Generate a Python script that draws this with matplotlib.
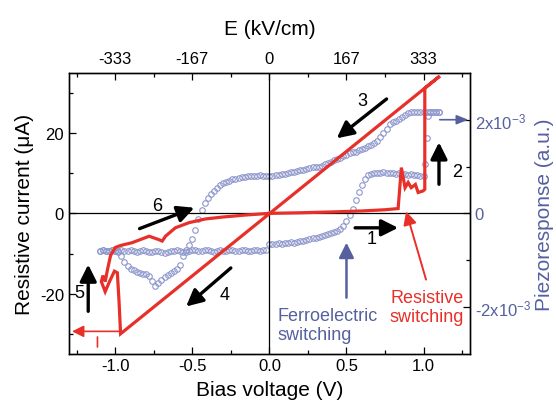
import matplotlib
matplotlib.use("Agg")
import matplotlib.pyplot as plt
import numpy as np

plt.rcParams['font.family'] = ['Liberation Sans', 'DejaVu Sans']
plt.rcParams['mathtext.fontset'] = 'custom'
plt.rcParams['mathtext.rm'] = 'Liberation Sans'
plt.rcParams['mathtext.it'] = 'Liberation Sans'
plt.rcParams['mathtext.default'] = 'regular'

# ---------------- data ----------------
# Resistive current (uA) vs bias voltage (V), red loop
red_v = [0.00, 0.20, 0.40, 0.60, 0.75, 0.835, 0.856, 0.88, 0.90, 0.92, 0.947, 0.965, 0.997, 1.008,
         1.008, 1.105, -0.965,
         -0.975, -0.986, -1.005, -1.037, -1.065, -1.09, -1.08, -1.065, -1.05, -1.03, -1.00, -0.965,
         -0.89, -0.78, -0.72, -0.695, -0.674, -0.61, -0.52, -0.416, -0.30, -0.15, 0.00]
red_i = [0.0, 0.15, 0.35, 0.6, 0.9, 1.2, 11.4, 6.4, 7.7, 6.4, 7.2, 5.2, 5.6, 6.0,
         31.2, 34.2, -30.0,
         -22.0, -14.8, -14.4, -17.0, -19.5, -17.0, -15.5, -17.0, -14.0, -10.5, -8.5, -8.0,
         -7.3, -5.7, -6.5, -6.9, -5.7, -3.6, -2.3, -1.4, -0.9, -0.4, 0.0]

# Piezoresponse (x1e-3 a.u.), forward sweep
pf_v = [-1.10, -1.08, -1.06, -1.04, -1.02, -1.00, -0.98,
        -0.96, -0.94, -0.92, -0.90, -0.88, -0.86, -0.84, -0.82, -0.80, -0.78, -0.76, -0.74,
        -0.72, -0.70, -0.68, -0.66, -0.64, -0.62, -0.60, -0.58, -0.56, -0.54, -0.52, -0.50,
        -0.48, -0.46, -0.44, -0.42, -0.40, -0.38, -0.36, -0.34, -0.32, -0.30, -0.28, -0.26,
        -0.24, -0.22, -0.20, -0.18, -0.16, -0.14, -0.12, -0.10, -0.08, -0.06, -0.04, -0.02,
        0.00, 0.02, 0.04, 0.06, 0.08, 0.10, 0.12, 0.14, 0.16, 0.18, 0.20, 0.22,
        0.24, 0.26, 0.28, 0.30, 0.32, 0.34, 0.36, 0.38, 0.40, 0.42, 0.44, 0.46,
        0.48, 0.50, 0.52, 0.54, 0.56, 0.58, 0.60, 0.62, 0.64, 0.66,
        0.68, 0.70, 0.72, 0.74, 0.76, 0.78, 0.80, 0.82, 0.84, 0.86, 0.88, 0.90,
        0.92, 0.94, 0.96, 0.98, 1.00,
        1.010, 1.020, 1.030, 1.04, 1.06, 1.08, 1.10]
pf_p = [-0.80, -0.79, -0.81, -0.80, -0.78, -0.80, -0.81,
        -0.79, -0.81, -0.80, -0.78, -0.80, -0.82, -0.81, -0.79, -0.80, -0.82, -0.83, -0.81,
        -0.80, -0.82, -0.84, -0.83, -0.81, -0.80, -0.79, -0.81, -0.83, -0.82, -0.80, -0.79,
        -0.78, -0.80, -0.81, -0.79, -0.78, -0.80, -0.82, -0.80, -0.79, -0.81, -0.80, -0.78,
        -0.79, -0.81, -0.80, -0.79, -0.78, -0.80, -0.81, -0.79, -0.78, -0.80, -0.79, -0.78,
        -0.66, -0.65, -0.66, -0.64, -0.65, -0.63, -0.64, -0.62, -0.63, -0.61, -0.60, -0.58,
        -0.56, -0.54, -0.53, -0.52, -0.50, -0.48, -0.47, -0.45, -0.42, -0.40, -0.37, -0.33,
        -0.28, -0.17, -0.04, 0.10, 0.28, 0.45, 0.60, 0.74, 0.81, 0.85,
        0.86, 0.87, 0.86, 0.88, 0.87, 0.86, 0.87, 0.85, 0.86, 0.84, 0.85, 0.83,
        0.84, 0.82, 0.81, 0.80, 0.80,
        1.05, 1.62, 2.08, 2.16, 2.17, 2.17, 2.16]

# Piezoresponse (x1e-3 a.u.), backward sweep
pb_v = [1.10, 1.08, 1.06, 1.04, 1.02, 1.00, 0.98, 0.96, 0.94, 0.92, 0.90, 0.88, 0.86, 0.84,
        0.82, 0.80, 0.78, 0.76, 0.74, 0.72, 0.70, 0.68, 0.66, 0.64, 0.62, 0.60, 0.58, 0.56,
        0.54, 0.52, 0.50, 0.48, 0.46, 0.44, 0.42, 0.40, 0.38, 0.36, 0.34, 0.32, 0.30, 0.28,
        0.26, 0.24, 0.22, 0.20, 0.18, 0.16, 0.14, 0.12, 0.10, 0.08, 0.06, 0.04, 0.02, 0.00,
        -0.02, -0.04, -0.06, -0.08, -0.10, -0.12, -0.14, -0.16, -0.18, -0.20, -0.22, -0.24,
        -0.26, -0.28, -0.30, -0.32, -0.34, -0.36, -0.38, -0.40, -0.42, -0.44, -0.46, -0.48,
        -0.50, -0.52, -0.54, -0.56, -0.58, -0.60, -0.62, -0.64, -0.66, -0.68, -0.70, -0.72,
        -0.74, -0.76, -0.78, -0.80, -0.82, -0.84, -0.86, -0.88, -0.90, -0.92, -0.94, -0.96,
        -0.98, -1.00, -1.02, -1.04, -1.06, -1.08, -1.10]
pb_p = [2.17, 2.16, 2.17, 2.17, 2.16, 2.17, 2.17, 2.16, 2.17, 2.16, 2.14, 2.10, 2.06, 2.02,
        1.98, 1.95, 1.90, 1.80, 1.72, 1.63, 1.55, 1.50, 1.46, 1.43, 1.40, 1.37, 1.35, 1.32,
        1.30, 1.28, 1.24, 1.22, 1.19, 1.16, 1.13, 1.10, 1.07, 1.05, 1.02, 1.00, 0.99, 0.98,
        0.96, 0.95, 0.93, 0.92, 0.91, 0.89, 0.88, 0.86, 0.85, 0.84, 0.83, 0.82, 0.80, 0.80,
        0.79, 0.80, 0.81, 0.80, 0.79, 0.80, 0.79, 0.78, 0.77, 0.76, 0.74, 0.73,
        0.70, 0.67, 0.64, 0.60, 0.55, 0.48, 0.41, 0.33, 0.22, 0.08, -0.13, -0.35,
        -0.55, -0.68, -0.78, -0.92, -1.10, -1.18, -1.24, -1.28, -1.32, -1.36, -1.42, -1.49,
        -1.55, -1.44, -1.34, -1.30, -1.29, -1.27, -1.25, -1.22, -1.18, -1.13, -1.03, -0.92,
        -0.82, -0.80, -0.79, -0.81, -0.80, -0.79, -0.80]

bias_ticks = [-1.0, -0.5, 0.0, 0.5, 1.0]
bias_labels = ['-1.0', '-0.5', '0.0', '0.5', '1.0']
field_labels = ['-333', '-167', '0', '167', '333']
cur_ticks = [-20, 0, 20]
piezo_ticks = [-2e-3, 0, 2e-3]
piezo_labels = ['-2x10$^{-3}$', '0', '2x10$^{-3}$']

RED = '#e8302a'
BLUE_M = '#8e97cc'
BLUE_T = '#56609f'

# ---------------- figure ----------------
fig = plt.figure(figsize=(5.56, 4.06), dpi=100)
ax = fig.add_axes([0.124, 0.126, 0.721, 0.692])
ax.set_xlim(-1.3, 1.3)
ax.set_ylim(-35, 35)
ax.axhline(0, color='black', lw=0.9, zorder=1)
ax.axvline(0, color='black', lw=0.9, zorder=1)

ax2 = ax.twinx()
ax2.set_ylim(-3e-3, 3e-3)
ax2.plot(np.array(pf_v), np.array(pf_p) * 1e-3, 'o', ms=4.0, mfc='none', mec=BLUE_M, mew=0.8)
ax2.plot(np.array(pb_v), np.array(pb_p) * 1e-3, 'o', ms=4.0, mfc='none', mec=BLUE_M, mew=0.8)

ax.set_zorder(ax2.get_zorder() + 1)
ax.patch.set_visible(False)
ax.plot(red_v, red_i, color=RED, lw=2.3, solid_joinstyle='miter', zorder=3)

tick_fs = 12
ax.set_xticks(bias_ticks)
ax.set_xticklabels(bias_labels, fontsize=tick_fs)
ax.set_xticks([-1.25, -0.75, -0.25, 0.25, 0.75, 1.25], minor=True)
ax.set_yticks(cur_ticks)
ax.set_yticklabels([str(t) for t in cur_ticks], fontsize=tick_fs)
ax.set_yticks([-30, -10, 10, 30], minor=True)
ax.tick_params(which='both', direction='in', top=False, right=False, width=0.9)
ax.tick_params(which='major', length=5)
ax.tick_params(which='minor', length=3)
ax.tick_params(axis='x', pad=3)

ax2.set_yticks(piezo_ticks)
ax2.set_yticklabels(piezo_labels, fontsize=tick_fs, color=BLUE_T)
ax2.set_yticks([-1e-3, 1e-3], minor=True)
ax2.tick_params(which='both', direction='in', width=0.9)
ax2.tick_params(which='major', length=5)
ax2.tick_params(which='minor', length=3)

axt = ax.twiny()
axt.set_xlim(ax.get_xlim())
axt.set_xticks(bias_ticks)
axt.set_xticklabels(field_labels, fontsize=tick_fs)
axt.set_xticks([-1.25, -0.75, -0.25, 0.25, 0.75, 1.25], minor=True)
axt.tick_params(which='both', direction='in', width=0.9)
axt.tick_params(which='major', length=5, pad=5)
axt.tick_params(which='minor', length=3)
axt.set_xlabel('E (kV/cm)', fontsize=15, labelpad=12)

ax.set_xlabel('Bias voltage (V)', fontsize=15, labelpad=5)
ax.set_ylabel('Resistive current (\u03bcA)', fontsize=15, labelpad=4)
ax2.set_ylabel('Piezoresponse (a.u.)', fontsize=15, color=BLUE_T, labelpad=3)

for a in (ax, ax2, axt):
    for s in a.spines.values():
        s.set_linewidth(0.9)

# numbered arrows
def karrow(x0, y0, x1, y1, color='black', lw=2.4, ms=10, hl=1.0, hw=0.5):
    ax.annotate('', xy=(x1, y1), xytext=(x0, y0),
                arrowprops=dict(arrowstyle='-|>,head_length=%s,head_width=%s' % (hl, hw),
                                lw=lw, color=color, mutation_scale=ms, shrinkA=0, shrinkB=0),
                zorder=5)

karrow(0.556, -3.6, 0.835, -3.6)
karrow(1.10, 7.25, 1.10, 17.7)
karrow(0.76, 28.5, 0.437, 18.7)
karrow(-0.25, -13.6, -0.54, -23.2)
karrow(-1.175, -24.4, -1.175, -12.75)
karrow(-0.842, -3.8, -0.487, 1.4)

num_fs = 13
ax.text(0.66, -6.3, '1', fontsize=num_fs, ha='center', va='center')
ax.text(1.22, 10.5, '2', fontsize=num_fs, ha='center', va='center')
ax.text(0.60, 28.0, '3', fontsize=num_fs, ha='center', va='center')
ax.text(-0.29, -20.2, '4', fontsize=num_fs, ha='center', va='center')
ax.text(-1.233, -19.8, '5', fontsize=num_fs, ha='center', va='center')
ax.text(-0.728, 2.0, '6', fontsize=num_fs, ha='center', va='center')

# ferroelectric switching
karrow(0.50, -21.0, 0.50, -7.3, color=BLUE_T, lw=1.8, ms=9)
ax.text(0.05, -27.8, 'Ferroelectric\nswitching', fontsize=13, color=BLUE_T,
        ha='left', va='center', linespacing=1.15)

# resistive switching
karrow(1.016, -16.5, 0.887, 0.5, color=RED, lw=1.4, ms=8)
ax.text(1.02, -23.3, 'Resistive\nswitching', fontsize=13, color=RED,
        ha='center', va='center', linespacing=1.1)

# axis-pointer arrows
karrow(-0.975, -29.4, -1.28, -29.4, color=RED, lw=1.2, ms=7)
ax.annotate('', xy=(-1.115, -33.3), xytext=(-1.115, -30.8),
            arrowprops=dict(arrowstyle='-', lw=1.2, color=RED, shrinkA=0, shrinkB=0))
ax.annotate('', xy=(1.29, 2e-3 * 35 / 3e-3), xytext=(1.105, 2e-3 * 35 / 3e-3),
            arrowprops=dict(arrowstyle='-|>,head_length=1.0,head_width=0.4', lw=1.2,
                            color=BLUE_T, mutation_scale=7, shrinkA=0, shrinkB=0))

fig.savefig('out.png', dpi=100)
